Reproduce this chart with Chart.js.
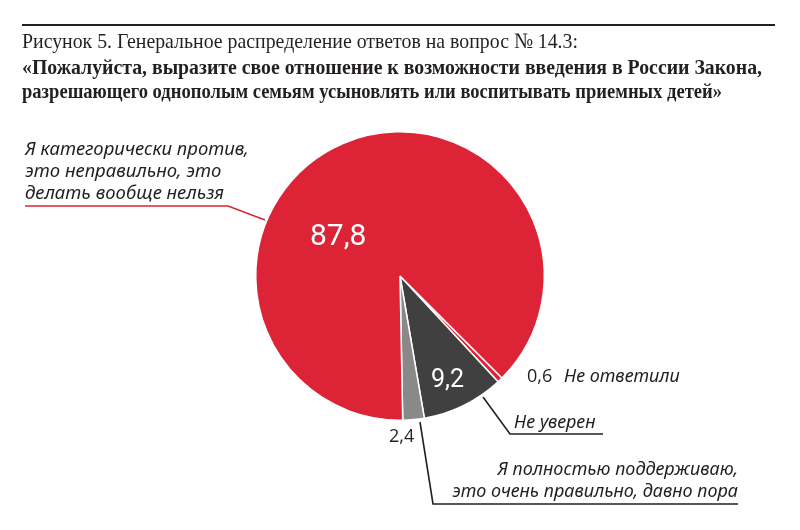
<!DOCTYPE html>
<html>
<head>
<meta charset="utf-8">
<script src="https://cdn.jsdelivr.net/npm/chart.js@4.4.1/dist/chart.umd.min.js"></script>
<style>
    body { margin: 0; background: #fff; }
    #wrap { position: relative; width: 800px; height: 530px; overflow: hidden; }
    #chart { position: absolute; left: 0; top: 0; }
    #rule { position: absolute; left: 22px; top: 24px; width: 753px; height: 2px; background: #231f20; }
    .title { position: absolute; left: 22px; font-family: "Liberation Serif", "DejaVu Serif", serif; font-size: 22px;
             color: #231f20; white-space: nowrap; transform-origin: 0 0; line-height: 1; }
    .title.bold { font-weight: bold; }
</style>
</head>
<body>
<div id="wrap">
    <canvas id="chart" width="800" height="530"></canvas>
    <div id="rule"></div>
    <div class="title" id="t1" data-w="556" style="top:30px">Рисунок 5. Генеральное распределение ответов на вопрос № 14.3:</div>
    <div class="title bold" id="t2" data-w="740" style="top:56px">«Пожалуйста, выразите свое отношение к возможности введения в России Закона,</div>
    <div class="title bold" id="t3" data-w="700" style="top:80px">разрешающего однополым семьям усыновлять или воспитывать приемных детей»</div>
</div>
<script>
// --- Daten ---
const categories = ["Не ответили", "Не уверен", "Я полностью поддерживаю, это очень правильно, давно пора", "Я категорически против, это неправильно, это делать вообще нельзя"];
const values = [0.6, 9.2, 2.4, 87.8];
const valueLabels = ["0,6", "9,2", "2,4", "87,8"];
const sliceColors = ["#dd2436", "#404040", "#898989", "#dd2436"];

// Titelzeilen auf Originalbreite stauchen
document.querySelectorAll(".title").forEach(el => {
    const w = el.getBoundingClientRect().width;
    el.style.transform = `scaleX(${el.dataset.w / w})`;
});

const labelFont = 'italic 18px "Noto Sans", "Open Sans", sans-serif';
const numFont = '18px "Open Sans", "Noto Sans", sans-serif';
const ink = "#231f20";

function line(ctx, pts, color) {
    ctx.beginPath();
    ctx.moveTo(pts[0][0], pts[0][1]);
    for (let i = 1; i < pts.length; i++) ctx.lineTo(pts[i][0], pts[i][1]);
    ctx.strokeStyle = color;
    ctx.lineWidth = 1.6;
    ctx.stroke();
}

const labelPlugin = {
    id: "pieLabels",
    afterDraw(chart) {
        const ctx = chart.ctx;
        ctx.save();
        ctx.textBaseline = "alphabetic";

        // Werte im Kreis
        ctx.fillStyle = "#fff";
        ctx.font = '30px Roboto, sans-serif';
        ctx.textAlign = "left";
        ctx.fillText(valueLabels[3], 310, 245);
        ctx.font = '25px Roboto, sans-serif';
        ctx.fillText(valueLabels[1], 431, 387);

        // Dagegen
        ctx.fillStyle = ink;
        ctx.font = 'italic 18.5px "Noto Sans", "Open Sans", sans-serif';
        ctx.fillText("Я категорически против,", 25, 155);
        ctx.fillText("это неправильно, это", 25, 177);
        ctx.fillText("делать вообще нельзя", 25, 199);
        line(ctx, [[25, 206], [228, 206], [265, 220]], "#dd2436");

        // Keine Antwort
        ctx.font = numFont;
        ctx.fillText(valueLabels[0], 527, 382);
        ctx.font = labelFont;
        ctx.fillText(categories[0], 564, 382);

        // Nicht sicher
        ctx.fillText(categories[1], 514, 428);
        line(ctx, [[483, 397], [510, 434], [603, 434]], ink);

        // Dafür
        ctx.font = numFont;
        ctx.fillText(valueLabels[2], 389, 442);
        ctx.font = labelFont;
        ctx.textAlign = "right";
        ctx.fillText("Я полностью поддерживаю,", 738, 475);
        ctx.fillText("это очень правильно, давно пора", 738, 497);
        line(ctx, [[420, 422], [433, 504], [738, 504]], ink);

        ctx.restore();
    }
};

const ctx = document.getElementById("chart").getContext("2d");
new Chart(ctx, {
    type: "pie",
    data: {
        labels: categories,
        datasets: [{
            data: values,
            backgroundColor: sliceColors,
            borderColor: "#ffffff",
            borderWidth: 1.5
        }]
    },
    options: {
        responsive: false,
        animation: false,
        rotation: 135,
        layout: { padding: { top: 131, bottom: 109, left: 0, right: 0 } },
        plugins: {
            legend: { display: false },
            tooltip: { enabled: false }
        }
    },
    plugins: [labelPlugin]
});
</script>
</body>
</html>
